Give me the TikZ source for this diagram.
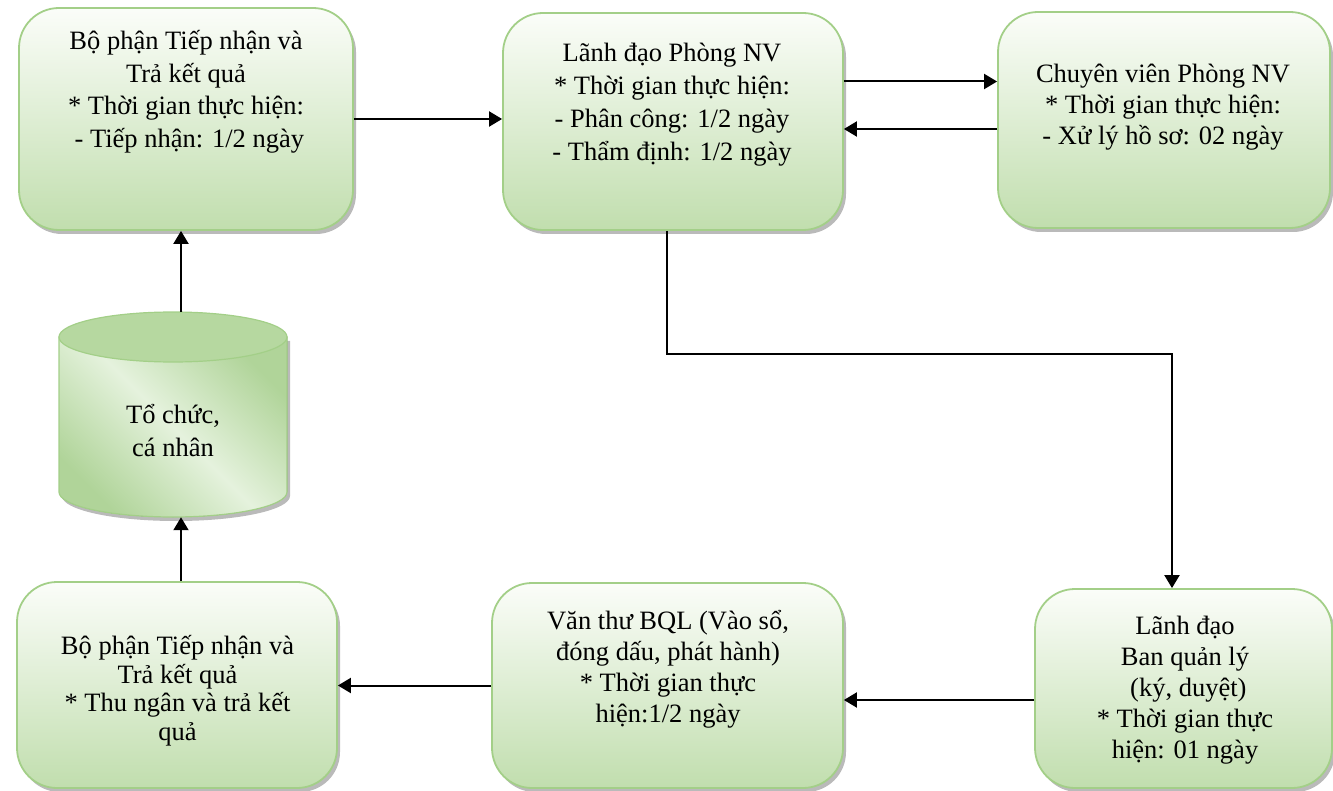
\documentclass[tikz,border=0pt]{standalone}
\usepackage{fontspec}
\setmainfont{Liberation Serif}
\usetikzlibrary{arrows.meta,shadows}
\definecolor{vien}{HTML}{A3CF88}
\definecolor{nhat}{HTML}{FBFDF9}
\definecolor{dam}{HTML}{C1DEAE}
\definecolor{trutoi}{HTML}{B0D499}
\definecolor{trusang}{HTML}{E5F2DD}
\definecolor{nap}{HTML}{B6D8A0}
\begin{document}
\begin{tikzpicture}[x=1pt,y=-1pt,
		bong/.style={drop shadow={shadow xshift=3pt,shadow yshift=-4pt,fill=black!45,opacity=.6}},
		buoc/.style={draw=vien,line width=1.8pt,rounded corners=40pt,top color=nhat,bottom color=dam,bong},
		chu/.style={font=\fontsize{26.5}{31}\selectfont,align=center,inner sep=0pt},
		mui/.style={line width=2pt,-{Triangle[length=13pt,width=15pt]}}]
	\useasboundingbox (0,0) rectangle (1333,791);
	
	\node[buoc,minimum width=334pt,minimum height=222pt](tiepnhan) at (186,119) {};
	\node[buoc,minimum width=340pt,minimum height=217pt](lanhdaoNV) at (673,121.5) {};
	\node[buoc,minimum width=332pt,minimum height=216pt](chuyenvien) at (1164,120) {};
	\node[buoc,minimum width=320pt,minimum height=206pt](tra) at (177,685) {};
	\node[buoc,minimum width=351pt,minimum height=205pt](vanthu) at (667.5,685.5) {};
	\node[buoc,minimum width=297pt,minimum height=199pt](lanhdaoBQL) at (1183.5,688.5) {};
	
	\filldraw[draw=vien,line width=1.2pt,left color=trutoi,right color=trutoi,middle color=trusang,shading angle=135,bong]
		(59,337) -- (59,492) arc[start angle=180,end angle=360,x radius=114pt,y radius=25pt] -- (287,337) -- cycle;
	\filldraw[draw=vien,line width=1.2pt,fill=nap] (173,337) ellipse[x radius=114pt,y radius=25pt];
	\node[minimum width=228pt,minimum height=205pt,inner sep=0pt](tochuc) at (173,414.5) {};
	
	\node[chu,font=\fontsize{26.5}{32.5}\selectfont](tiepnhanchu) at (186,92) {Bộ phận Tiếp nhận và\\Trả kết quả\\* Thời gian thực hiện:\\~- Tiếp nhận: 1/2 ngày};
	\node[chu,font=\fontsize{26.5}{33}\selectfont](lanhdaoNVchu) at (672,104.5) {Lãnh đạo Phòng NV\\* Thời gian thực hiện:\\- Phân công: 1/2 ngày\\- Thẩm định: 1/2 ngày};
	\node[chu](chuyenvienchu) at (1163,107.5) {Chuyên viên Phòng NV\\* Thời gian thực hiện:\\- Xử lý hồ sơ: 02 ngày};
	\node[chu,font=\fontsize{26.5}{33}\selectfont](tochucchu) at (173,431) {Tổ chức,\\cá nhân};
	\node[chu,font=\fontsize{26.5}{28.5}\selectfont](trachu) at (177.5,690.5) {Bộ phận Tiếp nhận và\\Trả kết quả\\* Thu ngân và trả kết\\quả};
	\node[chu](vanthuchu) at (668,669) {Văn thư BQL (Vào sổ,\\đóng dấu, phát hành)\\* Thời gian thực\\hiện:1/2 ngày};
	\node[chu](lanhdaoBQLchu) at (1185,690) {Lãnh đạo\\Ban quản lý\\~(ký, duyệt)\\* Thời gian thực\\hiện: 01 ngày};
	
	\draw[mui] (tiepnhan.east) -- (tiepnhan.east -| lanhdaoNV.west);
	\draw[mui] ([yshift=40pt]lanhdaoNV.east) -- ([yshift=40pt]lanhdaoNV.east -| chuyenvien.west);
	\draw[mui] ([yshift=-9pt]chuyenvien.west) -- ([yshift=-9pt]chuyenvien.west -| lanhdaoNV.east);
	\draw[mui] ([xshift=-6pt]lanhdaoNV.south) -- ++(0,123) -| ([xshift=-11.5pt]lanhdaoBQL.north);
	\draw[mui] ([yshift=-11.5pt]lanhdaoBQL.west) -- ([yshift=-11.5pt]lanhdaoBQL.west -| vanthu.east);
	\draw[mui] (vanthu.west) -- (vanthu.west -| tra.east);
	\draw[mui] ([xshift=4pt]tra.north) -- ([xshift=4pt]tra.north |- tochuc.south);
	\draw[mui] ([xshift=8pt]tochuc.north) -- ([xshift=8pt]tochuc.north |- tiepnhan.south);
\end{tikzpicture}
\end{document}
